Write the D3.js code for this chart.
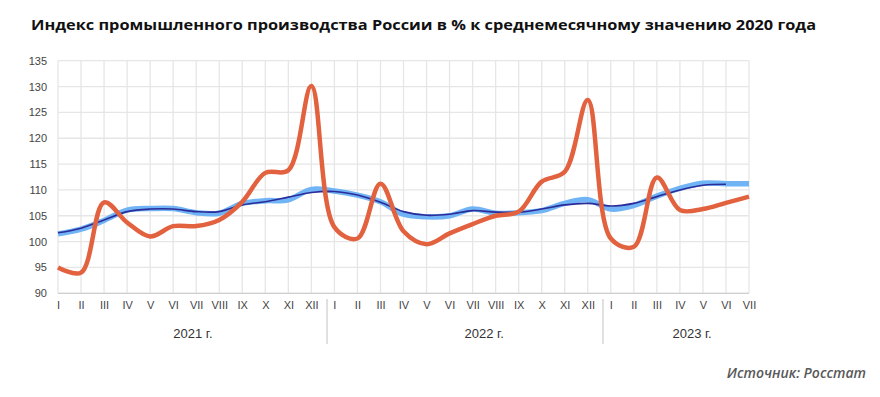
<!DOCTYPE html>
<html><head><meta charset="utf-8">
<script src="https://cdn.jsdelivr.net/npm/d3@7"></script>
<style>
html,body{margin:0;padding:0;background:#fff;}
svg{display:block;}
</style></head>
<body>
<svg id="chart" width="880" height="397"></svg>
<script>
const title = "Индекс промышленного производства России в % к среднемесячному значению 2020 года";
const source = "Источник: Росстат";
const monthLabels = ["I","II","III","IV","V","VI","VII","VIII","IX","X","XI","XII",
  "I","II","III","IV","V","VI","VII","VIII","IX","X","XI","XII",
  "I","II","III","IV","V","VI","VII"];
const yearLabels = ["2021 г.","2022 г.","2023 г."];
const yTicks = [90,95,100,105,110,115,120,125,130,135];
// original index
const indexValues = [95.0,94.0,107.6,103.7,101.0,103.0,103.0,104.2,107.7,113.3,113.8,130.1,
  102.8,100.6,111.2,102.0,99.5,101.6,103.4,105.0,105.8,111.6,113.5,127.4,
  100.6,99.0,112.4,106.1,106.3,107.5,108.7];
// seasonally adjusted
const adjValues = [101.5,102.4,104.1,106.1,106.4,106.4,105.6,105.5,107.4,107.9,108.1,110.1,
  109.8,109.0,107.7,105.3,104.8,105.0,106.3,105.5,105.6,106.0,107.4,108.1,
  106.3,107.0,108.8,110.3,111.3,111.2,111.2];
// trend
const trendValues = [101.7,102.6,104.2,105.8,106.3,106.3,105.8,105.8,107.1,107.7,108.6,109.5,
  109.7,109.0,107.6,105.8,105.1,105.3,106.0,105.7,105.7,106.3,107.1,107.4,
  106.9,107.4,108.7,110.0,110.9,111.1];

const svg = d3.select("#chart");
const L = 58, R = 749, T = 60.7, B = 293.3;
const idx = d3.range(monthLabels.length);
const x = d3.scaleLinear().domain([0, monthLabels.length - 1]).range([L, R]);
const y = d3.scaleLinear().domain([90, 135]).range([B, T]);

// title
svg.append("text").attr("x", 31).attr("y", 30)
  .attr("font-family", "Open Sans").attr("font-weight", 700).attr("font-size", 15)
  .attr("fill", "#111").attr("textLength", 785).attr("lengthAdjust","spacingAndGlyphs").text(title);

// grid
const g = svg.append("g");
g.selectAll("line.h").data(yTicks).join("line")
  .attr("x1", L).attr("x2", R).attr("y1", d => y(d)).attr("y2", d => y(d))
  .attr("stroke", "#e6e6e6").attr("stroke-width", 1.3);
g.selectAll("line.v").data(idx).join("line")
  .attr("x1", d => x(d)).attr("x2", d => x(d)).attr("y1", T).attr("y2", B)
  .attr("stroke", "#e6e6e6").attr("stroke-width", 1.3);
// bottom axis line
svg.append("line").attr("x1", L).attr("x2", R).attr("y1", B).attr("y2", B)
  .attr("stroke", "#cfcfcf").attr("stroke-width", 1.3);

// y labels
const yAxis = d3.axisLeft(y).tickValues(yTicks).tickSize(0).tickPadding(11);
const ya = svg.append("g").attr("transform", `translate(${L},0)`).call(yAxis);
ya.select(".domain").remove();
ya.selectAll("text").attr("font-family", "Liberation Sans").attr("font-size", 11).attr("fill", "#444");

// x labels
const xAxis = d3.axisBottom(x).tickValues(idx).tickFormat(i => monthLabels[i]).tickSize(0).tickPadding(8);
const xa = svg.append("g").attr("transform", `translate(0,${B})`).call(xAxis);
xa.select(".domain").remove();
xa.selectAll("text").attr("font-family", "Liberation Sans").attr("font-size", 11).attr("fill", "#444");

// year separators
const sepIdx = [11.68, 23.66];
svg.selectAll("line.sep").data(sepIdx).join("line")
  .attr("x1", d => x(d)).attr("x2", d => x(d)).attr("y1", 299).attr("y2", 344)
  .attr("stroke", "#cccccc").attr("stroke-width", 1.2);
const yearPos = [5.86, 18.5, 27.53];
svg.selectAll("text.year").data(yearLabels).join("text")
  .attr("x", (d, i) => x(yearPos[i])).attr("y", 338).attr("text-anchor", "middle")
  .attr("font-family", "Liberation Sans").attr("font-size", 13).attr("fill", "#333").text(d => d);

// lines
const line = d3.line().x((d, i) => x(i)).y(d => y(d)).curve(d3.curveCatmullRom.alpha(0.5));
svg.append("path").datum(adjValues).attr("d", line).attr("fill", "none")
  .attr("stroke", "#70b4f5").attr("stroke-width", 5.5).attr("stroke-linejoin", "round");
svg.append("path").datum(trendValues).attr("d", line).attr("fill", "none")
  .attr("stroke", "#2b2b99").attr("stroke-width", 1.6);
svg.append("path").datum(indexValues).attr("d", line).attr("fill", "none")
  .attr("stroke", "#e2613e").attr("stroke-width", 4.5).attr("stroke-linejoin", "round");

// source
svg.append("text").attr("x", 866).attr("y", 378).attr("text-anchor", "end")
  .attr("font-family", "Open Sans").attr("font-style", "italic").attr("font-weight", 600)
  .attr("font-size", 14).attr("fill", "#595959").text(source);
</script>
</body></html>
